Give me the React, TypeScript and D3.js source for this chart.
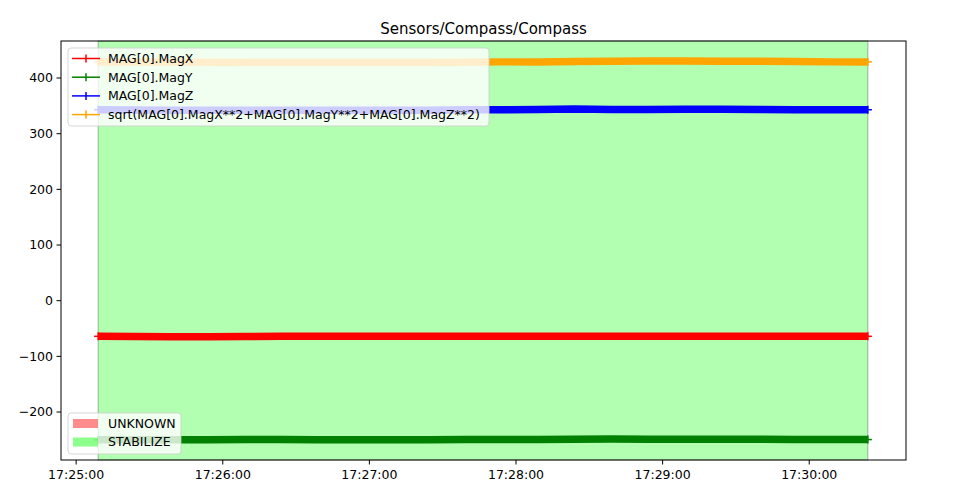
import React from "react";
import * as d3 from "d3";

const title = "Sensors/Compass/Compass";
const startTime = "17:25:09";
const stepSeconds = 15;
const magX = [-64, -64.5, -65, -65, -64.5, -64, -64, -64, -64, -64, -64, -64, -64, -64, -64, -64, -64, -64, -64, -64, -64, -64];
const magY = [-250, -250, -250, -250, -249.5, -249.5, -250, -250, -250, -250, -249.5, -249.5, -249.5, -249, -248.5, -249, -249, -249, -249, -249.5, -249.5, -249.5];
const magZ = [343, 342.5, 342, 342, 342, 342, 342, 342, 342, 342, 343, 343, 343.5, 344.5, 343.5, 343.5, 344, 344, 343.5, 343, 343, 343];
const magNorm = [429, 429, 428.5, 428.5, 428, 428, 428, 428, 428, 428, 428.5, 429, 429, 429.5, 430, 430.5, 430.5, 430, 430, 429.5, 429, 429];
const seriesNames = ["MAG[0].MagX", "MAG[0].MagY", "MAG[0].MagZ", "sqrt(MAG[0].MagX**2+MAG[0].MagY**2+MAG[0].MagZ**2)"];
const seriesColors = ["red", "green", "blue", "orange"];
const modeNames = ["UNKNOWN", "STABILIZE"];
const modeColors = ["rgba(255,0,0,0.45)", "rgba(0,255,0,0.45)"];
const stabilizeStart = "17:25:09";
const stabilizeEnd = "17:30:24";
const xDomain = ["17:24:53.8", "17:30:39.6"];
const yDomain = [-286.2, 466.5];
const yTicks = [-200, -100, 0, 100, 200, 300, 400];

const parseT = (s: string) => {
  const [h, m, sec] = s.split(":");
  return new Date(2024, 0, 1, +h, +m, 0, Math.round(parseFloat(sec) * 1000));
};

export default function App() {
  const W = 975, H = 493;
  const L = 61, R = 906, T = 41, B = 460;
  const x = d3.scaleTime().domain(xDomain.map(parseT)).range([L, R]);
  const y = d3.scaleLinear().domain(yDomain).range([B, T]);
  const t0 = parseT(startTime).getTime();
  const allSeries = [magX, magY, magZ, magNorm];
  const line = d3
    .line<number>()
    .x((_, i) => x(new Date(t0 + i * stepSeconds * 1000)))
    .y((v) => y(v));
  const xTicks = x.ticks(d3.timeMinute.every(1)!);
  const fmt = d3.timeFormat("%H:%M:%S");
  const font = "'DejaVu Sans', sans-serif";
  const fs = 12.5;
  const sx0 = x(parseT(stabilizeStart));
  const sx1 = x(parseT(stabilizeEnd));
  const yFmt = (v: number) => (v < 0 ? "\u2212" + Math.abs(v) : String(v));

  return (
    <div style={{ position: "absolute", left: 0, top: 0 }}>
      <svg width={W} height={H} style={{ display: "block", background: "white" }} fontFamily={font}>
        <defs>
          <clipPath id="plot">
            <rect x={L} y={T} width={R - L} height={B - T} />
          </clipPath>
        </defs>
        <text x={(L + R) / 2} y={34} textAnchor="middle" fontSize={15}>{title}</text>
        <rect x={sx0} y={T} width={sx1 - sx0} height={B - T} fill="rgba(0,255,0,0.3)" stroke="rgba(0,0,0,0.3)" strokeWidth={1} />
        <g clipPath="url(#plot)">
          {allSeries.map((s, i) => (
            <g key={i}>
              <path d={line(s) || ""} fill="none" stroke={seriesColors[i]} strokeWidth={7.5} strokeLinejoin="round" />
              {[0, s.length - 1].map((j) => {
                const px = x(new Date(t0 + j * stepSeconds * 1000));
                const py = y(s[j]);
                return (
                  <g key={j} stroke={seriesColors[i]} strokeWidth={1.5}>
                    <line x1={px - 4} x2={px + 4} y1={py} y2={py} />
                    <line x1={px} x2={px} y1={py - 4} y2={py + 4} />
                  </g>
                );
              })}
            </g>
          ))}
        </g>
        <rect x={L} y={T} width={R - L} height={B - T} fill="none" stroke="black" strokeWidth={1} />
        {xTicks.map((t, i) => (
          <g key={i} transform={`translate(${x(t)},${B})`}>
            <line y1={0} y2={4.5} stroke="black" />
            <text y={19} textAnchor="middle" fontSize={fs}>{fmt(t)}</text>
          </g>
        ))}
        {yTicks.map((v, i) => (
          <g key={i} transform={`translate(${L},${y(v)})`}>
            <line x1={-4.5} x2={0} stroke="black" />
            <text x={-8} dy="0.35em" textAnchor="end" fontSize={fs}>{yFmt(v)}</text>
          </g>
        ))}
        {/* series legend */}
        <g>
          <rect x={68} y={48} width={421} height={78} rx={3} fill="rgba(255,255,255,0.8)" stroke="rgba(204,204,204,0.8)" />
          {seriesNames.map((n, i) => {
            const cy = 58.5 + i * 18.7;
            return (
              <g key={i}>
                <line x1={72} x2={100} y1={cy} y2={cy} stroke={seriesColors[i]} strokeWidth={1.5} />
                <line x1={86} x2={86} y1={cy - 4} y2={cy + 4} stroke={seriesColors[i]} strokeWidth={1.5} />
                <text x={108} y={cy} dy="0.35em" fontSize={fs}>{n}</text>
              </g>
            );
          })}
        </g>
        {/* mode legend */}
        <g>
          <rect x={68} y={413} width={113} height={41} rx={3} fill="rgba(255,255,255,0.8)" stroke="rgba(204,204,204,0.8)" />
          {modeNames.map((n, i) => {
            const cy = 423.5 + i * 18.5;
            return (
              <g key={i}>
                <rect x={73} y={cy - 4.5} width={25} height={9} fill={modeColors[i]} />
                <text x={108} y={cy} dy="0.35em" fontSize={fs}>{n}</text>
              </g>
            );
          })}
        </g>
      </svg>
    </div>
  );
}
